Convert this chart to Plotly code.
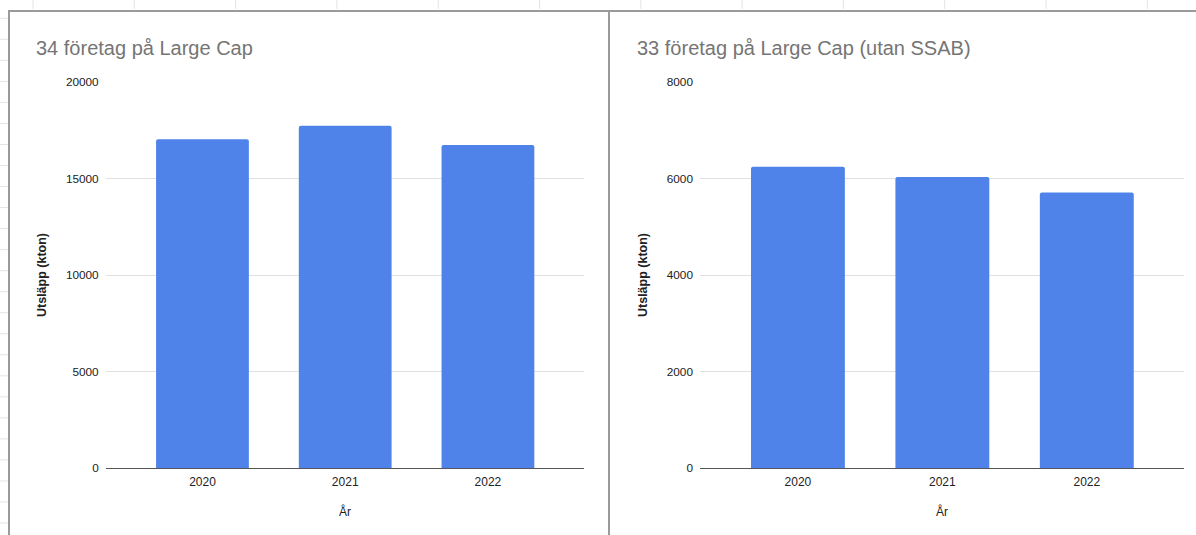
import plotly.graph_objects as go

# Emissions (kton) per year for Large Cap companies
years = ["2020", "2021", "2022"]
all_34 = [17030, 17720, 16730]
excl_ssab = [6240, 6030, 5710]

title_left = "34 företag på Large Cap"
title_right = "33 företag på Large Cap (utan SSAB)"
y_title = "Utsläpp (kton)"
x_title = "År"

W, H = 1196, 535
BAR = "#4f83e9"
FONT = "Liberation Sans, Arial, sans-serif"


def px(x):
    return x / W


def py(y):
    return 1 - y / H


fig = go.Figure()
fig.add_trace(go.Bar(x=years, y=all_34, marker=dict(color=BAR, line=dict(width=0), cornerradius=2),
                     xaxis="x", yaxis="y", hoverinfo="x+y"))
fig.add_trace(go.Bar(x=years, y=excl_ssab, marker=dict(color=BAR, line=dict(width=0), cornerradius=2),
                     xaxis="x2", yaxis="y2", hoverinfo="x+y"))

ydom = [py(468.3), py(81.8)]
xcommon = dict(type="category", range=[-0.678, 2.673], showgrid=False, zeroline=False,
               showline=True, linecolor="#555555", linewidth=1, layer="below traces",
               ticks="", ticklabelstandoff=2, automargin=False,
               tickfont=dict(family=FONT, size=12, color="#222222"), fixedrange=True)
ycommon = dict(showgrid=True, gridcolor="#e0e0e0", gridwidth=1, zeroline=False, showline=False,
               ticks="", ticklabelstandoff=6, tickformat="d", automargin=False,
               tickfont=dict(family=FONT, size=11.8, color="#222222"), fixedrange=True)

fig.update_layout(
    width=W, height=H, margin=dict(l=0, r=0, t=0, b=0, autoexpand=False),
    paper_bgcolor="white", plot_bgcolor="white", showlegend=False, bargap=0.35,
    xaxis=dict(domain=[px(105.7), px(584)], anchor="y", **xcommon),
    yaxis=dict(domain=ydom, anchor="x", range=[0, 20000], dtick=5000, **ycommon),
    xaxis2=dict(domain=[px(700), px(1184)], anchor="y2", **xcommon),
    yaxis2=dict(domain=ydom, anchor="x2", range=[0, 8000], dtick=2000, **ycommon),
)

ann = []
for x0, text in [(34, title_left), (634.5, title_right)]:
    ann.append(dict(text=text, x=px(x0), y=py(48.5), xref="paper", yref="paper",
                    xanchor="left", yanchor="middle", showarrow=False,
                    font=dict(family=FONT, size=20, color="#757575")))
for xc in (42, 643):
    ann.append(dict(text="<b>" + y_title + "</b>", x=px(xc), y=py(275), xref="paper", yref="paper",
                    xanchor="center", yanchor="middle", textangle=-90, showarrow=False,
                    font=dict(family=FONT, size=12.5, color="#222222")))
for xc in (345, 942):
    ann.append(dict(text=x_title, x=px(xc), y=py(511), xref="paper", yref="paper",
                    xanchor="center", yanchor="middle", showarrow=False,
                    font=dict(family=FONT, size=12, color="#222222")))
fig.update_layout(annotations=ann)

# Sheet frame around the two charts, plus faint spreadsheet grid stubs
shapes = []
for k in range(12):
    x = 33 + 101.3 * k
    shapes.append(dict(type="line", xref="paper", yref="paper", x0=px(x), x1=px(x),
                       y0=py(0), y1=py(9), line=dict(color="#e4e4e4", width=1)))
for k in range(25):
    y = 18.3 + 21.03 * k
    if y > H:
        break
    shapes.append(dict(type="line", xref="paper", yref="paper", x0=px(0), x1=px(8),
                       y0=py(y), y1=py(y), line=dict(color="#e4e4e4", width=1)))
shapes.append(dict(type="line", xref="paper", yref="paper", x0=px(8), x1=1,
                   y0=py(11), y1=py(11), line=dict(color="#9a9a9a", width=2)))
shapes.append(dict(type="line", xref="paper", yref="paper", x0=px(9), x1=px(9),
                   y0=py(11), y1=0, line=dict(color="#9a9a9a", width=2)))
shapes.append(dict(type="line", xref="paper", yref="paper", x0=px(609), x1=px(609),
                   y0=py(11), y1=0, line=dict(color="#9a9a9a", width=2)))
fig.update_layout(shapes=shapes)

fig.write_html("out.html", config=dict(displayModeBar=False))
